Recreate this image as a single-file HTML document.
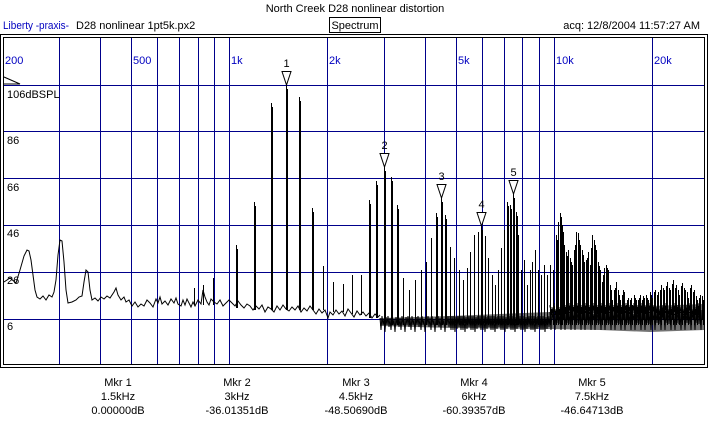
<!DOCTYPE html>
<html><head><meta charset="utf-8"><style>
html,body{margin:0;padding:0;background:#fff;}
svg{display:block;font-family:"Liberation Sans",Arial,sans-serif;}
</style></head><body>
<svg width="709" height="426" viewBox="0 0 709 426" xmlns="http://www.w3.org/2000/svg">
<rect width="709" height="426" fill="#fff"/>
<text x="355" y="12" font-size="11" text-anchor="middle">North Creek D28 nonlinear distortion</text>
<text x="3" y="29" font-size="11" fill="#0000c0" textLength="66" lengthAdjust="spacingAndGlyphs">Liberty -praxis-</text>
<text x="76" y="29" font-size="11">D28 nonlinear 1pt5k.px2</text>
<rect x="329.5" y="17.5" width="51" height="15" fill="none" stroke="#000"/>
<text x="355" y="29" font-size="11" text-anchor="middle">Spectrum</text>
<text x="700" y="29" font-size="11" text-anchor="end">acq: 12/8/2004 11:57:27 AM</text>
<rect x="0.5" y="34.5" width="707" height="333" fill="none" stroke="#000"/>
<rect x="3.5" y="37.5" width="701" height="327" fill="none" stroke="#000"/>
<path stroke="#00008b" stroke-width="1" fill="none" d="M59.5 38V364 M100.5 38V364 M131.5 38V364 M157.5 38V364 M179.5 38V364 M198.5 38V364 M214.5 38V364 M229.5 38V364 M327.5 38V364 M384.5 38V364 M425.5 38V364 M456.5 38V364 M482.5 38V364 M504.5 38V364 M522.5 38V364 M539.5 38V364 M554.5 38V364 M652.5 38V364 M4 85.5H704 M4 131.5H704 M4 178.5H704 M4 225.5H704 M4 272.5H704 M4 319.5H704"/>
<g font-size="11" fill="#0000c0">
<text x="5" y="64">200</text><text x="133" y="64">500</text><text x="231" y="64">1k</text>
<text x="329" y="64">2k</text><text x="458" y="64">5k</text><text x="556" y="64">10k</text><text x="654" y="64">20k</text>
</g>
<path d="M4 77 L20 84 L4 84" fill="none" stroke="#000"/>
<g font-size="11">
<text x="7" y="98">106dBSPL</text><text x="7" y="144">86</text><text x="7" y="191">66</text>
<text x="7" y="237">46</text><text x="7" y="284">26</text><text x="7" y="330">6</text>
</g>
<path fill="#000" fill-opacity="0.55" d="M380 318 L450 316 L550 312 L600 308 L650 306 L704 304 L704 330 L650 332 L600 330 L550 329 L450 328 L380 326 Z"/>
<g fill="none" stroke="#000" stroke-width="1">
<path d="M4 282 L10 278 L16 283 L20 270 L24 256 L27 250 L29 251 L31 260 L33 275 L35 290 L37 297 L40 299 L43 296 L46 300 L49 295 L52 297 L54 292 L56 280 L58 255 L60 240 L62 241 L64 262 L66 290 L68 303 L72 302 L76 300 L79 297 L82 296 L84 282 L86 270 L88 272 L90 290 L92 300 L95 298 L98 301 L101 297 L104 299 L107 296 L110 298 L114 292 L116 288 L118 295 L121 300 L124 297 L126 302 L129 300 L132 306 L135 302 L138 307 L141 304 L144 306 L147 300 L150 303 L153 307 L156 299 L158 303 L160 297 L162 304 L165 301 L168 305 L171 299 L174 303 L176 298 L178 304 L181 306 L183 300 L185 305 L187 299 L189 303 L191 307 L193 302 L195 306 L198 300 L201 304 L203 290 L205 297 L207 302 L209 305 L211 299 L214 302 L217 304 L220 300 L223 306 L226 303 L229 300 L232 303 L235 306 L238 301 L241 305 L244 308 L247 304 L250 306 L253 310 L256 306 L259 309 L262 305 L265 312 L268 307 L271 309 L274 312 L277 306 L280 310 L283 305 L286 309 L289 311 L292 307 L295 310 L298 306 L301 312 L304 308 L307 311 L310 306 L313 310 L316 314 L319 309 L322 313 L325 310 L328 318 L330 312 L333 315 L336 310 L339 314 L342 311 L345 316 L348 309 L351 313 L354 317 L357 311 L360 315 L363 312 L366 316 L369 313 L372 318 L375 314 L378 317 L380 315"/>
<path d="M380 318 l1 12 l1 -14 l1 9 l1 -6 l1 13 l1 -15 l1 8 l1 -9 l1 11 l1 -9 l1 12 l1 -14 l1 9 l1 -6 l1 13 l1 -15 l1 8 l1 -9 l1 11 l1 -9 l1 12 l1 -14 l1 9 l1 -6 l1 13 l1 -15 l1 8 l1 -9 l1 11 l1 -9 l1 12 l1 -14 l1 9 l1 -6 l1 13 l1 -15 l1 8 l1 -9 l1 11 l1 -9 l1 12 l1 -14 l1 9 l1 -6 l1 13 l1 -15 l1 8 l1 -9 l1 11 l1 -9 l1 12 l1 -14 l1 9 l1 -6 l1 13 l1 -15 l1 8 l1 -9 l1 11 l1 -9 l1 12 l1 -14 l1 9 l1 -6 l1 13 l1 -15 l1 8 l1 -9 l1 11 l1 -9 l1 12 l1 -14 l1 9 l1 -6 l1 13 l1 -15 l1 8 l1 -9 l1 11 l1 -9 l1 12 l1 -14 l1 9 l1 -6 l1 13 l1 -15 l1 8 l1 -9 l1 11 l1 -9 l1 12 l1 -14 l1 9 l1 -6 l1 13 l1 -15 l1 8 l1 -9 l1 11 l1 -9 l1 12 l1 -14 l1 9 l1 -6 l1 13 l1 -15 l1 8 l1 -9 l1 11 l1 -9 l1 12 l1 -14 l1 9 l1 -6 l1 13 l1 -15 l1 8 l1 -9 l1 11 l1 -9 l1 12 l1 -14 l1 9 l1 -6 l1 13 l1 -15 l1 8 l1 -9 l1 11 l1 -9 l1 12 l1 -14 l1 9 l1 -6 l1 13 l1 -15 l1 8 l1 -9 l1 11 l1 -9 l1 12 l1 -14 l1 9 l1 -6 l1 13 l1 -15 l1 8 l1 -9 l1 11 l1 -9 l1 12 l1 -14 l1 9 l1 -6 l1 13 l1 -15 l1 8 l1 -9 l1 11 l1 -9 l1 12 l1 -14 l1 9 l1 -6 l1 13 l1 -15 l1 8 l1 -9 l1 11 l1 -9"/>
<path d="M450 316 l1 10 l1 -8 l1 12 l1 -14 l1 7 l1 -5 l1 11 l1 -13 l1 9 l1 -9 l1 10 l1 -8 l1 12 l1 -14 l1 7 l1 -5 l1 11 l1 -13 l1 9 l1 -9 l1 10 l1 -8 l1 12 l1 -14 l1 7 l1 -5 l1 11 l1 -13 l1 9 l1 -9 l1 10 l1 -8 l1 12 l1 -14 l1 7 l1 -5 l1 11 l1 -13 l1 9 l1 -9 l1 10 l1 -8 l1 12 l1 -14 l1 7 l1 -5 l1 11 l1 -13 l1 9 l1 -9 l1 10 l1 -8 l1 12 l1 -14 l1 7 l1 -5 l1 11 l1 -13 l1 9 l1 -9 l1 10 l1 -8 l1 12 l1 -14 l1 7 l1 -5 l1 11 l1 -13 l1 9 l1 -9 l1 10 l1 -8 l1 12 l1 -14 l1 7 l1 -5 l1 11 l1 -13 l1 9 l1 -9 l1 10 l1 -8 l1 12 l1 -14 l1 7 l1 -5 l1 11 l1 -13 l1 9 l1 -9 l1 10 l1 -8 l1 12 l1 -14 l1 7 l1 -5 l1 11 l1 -13 l1 9 l1 -9"/>
<path d="M550 312 l1 18 l1 -20 l1 10 l1 -6 l1 16 l1 -19 l1 12 l1 -14 l1 15 l1 -12 l1 18 l1 -20 l1 10 l1 -6 l1 16 l1 -19 l1 12 l1 -14 l1 15 l1 -12 l1 18 l1 -20 l1 10 l1 -6 l1 16 l1 -19 l1 12 l1 -14 l1 15 l1 -12 l1 18 l1 -20 l1 10 l1 -6 l1 16 l1 -19 l1 12 l1 -14 l1 15 l1 -12 l1 18 l1 -20 l1 10 l1 -6 l1 16 l1 -19 l1 12 l1 -14 l1 15 l1 -12 l1 18 l1 -20 l1 10 l1 -6 l1 16 l1 -19 l1 12 l1 -14 l1 15 l1 -12 l1 18 l1 -20 l1 10 l1 -6 l1 16 l1 -19 l1 12 l1 -14 l1 15 l1 -12 l1 18 l1 -20 l1 10 l1 -6 l1 16 l1 -19 l1 12 l1 -14 l1 15 l1 -12 l1 18 l1 -20 l1 10 l1 -6 l1 16 l1 -19 l1 12 l1 -14 l1 15 l1 -12 l1 18 l1 -20 l1 10 l1 -6 l1 16 l1 -19 l1 12 l1 -14 l1 15 l1 -12 l1 18 l1 -20 l1 10 l1 -6 l1 16 l1 -19 l1 12 l1 -14 l1 15 l1 -12 l1 18 l1 -20 l1 10 l1 -6 l1 16 l1 -19 l1 12 l1 -14 l1 15 l1 -12 l1 18 l1 -20 l1 10 l1 -6 l1 16 l1 -19 l1 12 l1 -14 l1 15 l1 -12 l1 18 l1 -20 l1 10 l1 -6 l1 16 l1 -19 l1 12 l1 -14 l1 15 l1 -12 l1 18 l1 -20 l1 10 l1 -6 l1 16 l1 -19 l1 12 l1 -14 l1 15 l1 -12 l1 18 l1 -20 l1 10 l1 -6"/>
</g>
<g fill="none" stroke="#000" stroke-width="1" shape-rendering="crispEdges">
<path d="M550 305 l1 10 l1 -8 l1 6 l1 -10 l1 12 l1 -6 l1 5 l1 -9 l1 10 l1 -8 l1 6 l1 -10 l1 12 l1 -6 l1 5 l1 -9 l1 10 l1 -8 l1 6 l1 -10 l1 12 l1 -6 l1 5 l1 -9 l1 10 l1 -8 l1 6 l1 -10 l1 12 l1 -6 l1 5 l1 -9 l1 10 l1 -8 l1 6 l1 -10 l1 12 l1 -6 l1 5 l1 -9 l1 10 l1 -8 l1 6 l1 -10 l1 12 l1 -6 l1 5 l1 -9 l1 10 l1 -8 l1 6 l1 -10 l1 12 l1 -6 l1 5 l1 -9 l1 10 l1 -8 l1 6 l1 -10 l1 12 l1 -6 l1 5 l1 -9 l1 10 l1 -8 l1 6 l1 -10 l1 12 l1 -6 l1 5 l1 -9 l1 10 l1 -8 l1 6 l1 -10 l1 12 l1 -6 l1 5 l1 -9 l1 10 l1 -8 l1 6 l1 -10 l1 12 l1 -6 l1 5 l1 -9 l1 10 l1 -8 l1 6 l1 -10 l1 12 l1 -6 l1 5 l1 -9 l1 10 l1 -8 l1 6 l1 -10 l1 12 l1 -6 l1 5 l1 -9 l1 10 l1 -8 l1 6 l1 -10 l1 12 l1 -6 l1 5 l1 -9 l1 10 l1 -8 l1 6 l1 -10 l1 12 l1 -6 l1 5 l1 -9 l1 10 l1 -8 l1 6 l1 -10 l1 12 l1 -6 l1 5 l1 -9 l1 10 l1 -8 l1 6 l1 -10 l1 12 l1 -6 l1 5 l1 -9 l1 10 l1 -8 l1 6 l1 -10 l1 12 l1 -6 l1 5 l1 -9 l1 10 l1 -8 l1 6 l1 -10 l1 12 l1 -6"/>
<path d="M194.5 288V305 M203.5 285V305 M213.5 278V305 M236.5 245V308 M237.5 249V308 M254.5 202V310 M255.5 206V310 M271.5 103V310 M272.5 107V310 M286.5 85V310 M287.5 89V310 M299.5 97V310 M300.5 101V310 M312.5 208V310 M313.5 212V310 M323.5 266V310 M333.5 282V312 M343.5 284V312 M352.5 275V314 M361.5 275V315 M369.5 200V318 M370.5 204V318 M376.5 181V318 M377.5 185V318 M384.5 167V325 M385.5 171V325 M391.5 177V325 M392.5 181V325 M397.5 205V325 M398.5 209V325 M403.5 278V325 M409.5 290V325 M415.5 280V325 M421.5 270V325 M426.5 262V325 M431.5 238V325 M436.5 213V325 M437.5 217V325 M441.5 198V325 M442.5 202V325 M445.5 215V325 M446.5 219V325 M450.5 247V325 M454.5 258V325 M459.5 270V325 M463.5 280V325 M467.5 268V325 M470.5 252V325 M474.5 235V325 M478.5 232V325 M481.5 226V325 M482.5 230V325 M485.5 236V325 M488.5 258V325 M492.5 275V325 M495.5 285V325 M498.5 270V325 M501.5 248V325 M504.5 230V325 M507.5 202V325 M508.5 206V325 M510.5 205V325 M511.5 209V325 M513.5 194V325 M514.5 198V325 M516.5 212V325 M517.5 216V325 M518.5 235V325 M521.5 270V325 M524.5 260V325 M527.5 285V325 M530.5 270V325 M532.5 262V325 M535.5 250V325 M538.5 270V325 M541.5 275V325 M544.5 265V325 M547.5 275V325 M550.5 265V325 M553.5 270V325 M556.5 235V325 M558.5 222V325 M560.5 213V325 M561.5 217V325 M562.5 225V325 M564.5 245V325 M566.5 252V325 M568.5 250V325 M570.5 258V325 M572.5 265V325 M574.5 250V325 M576.5 232V325 M578.5 233V325 M580.5 245V325 M582.5 250V325 M584.5 262V325 M586.5 260V325 M588.5 252V325 M590.5 265V325 M592.5 235V325 M594.5 240V325 M596.5 250V325 M598.5 262V325 M600.5 270V325 M602.5 282V325 M604.5 268V325 M606.5 265V325 M608.5 270V325 M610.5 285V325 M612.5 300V325 M614.5 290V325 M616.5 282V325 M618.5 290V325 M620.5 300V325 M622.5 295V325 M624.5 292V325 M626.5 305V325 M628.5 298V325 M630.5 300V325 M632.5 305V325 M634.5 295V325 M636.5 300V325 M638.5 300V325 M640.5 295V325 M642.5 300V325 M644.5 298V325 M646.5 295V325 M648.5 300V325 M650.5 292V325 M652.5 298V325 M655.5 290V325 M658.5 292V325 M661.5 285V325 M664.5 290V325 M667.5 282V325 M670.5 290V325 M673.5 280V325 M676.5 285V325 M679.5 295V325 M682.5 283V325 M685.5 290V325 M688.5 298V325 M691.5 285V325 M694.5 290V325 M697.5 300V325 M700.5 295V325 M703.5 300V325"/>
<path d="M557.5 240V320 M563.5 232V320 M567.5 256V320 M571.5 262V320 M575.5 245V320 M579.5 240V320 M583.5 255V320 M587.5 258V320 M591.5 248V320 M595.5 245V320 M599.5 266V320 M603.5 275V320 M607.5 268V320 M611.5 290V320 M615.5 288V320 M619.5 295V320 M623.5 290V320 M627.5 300V320 M631.5 298V320 M635.5 298V320 M639.5 298V320 M643.5 296V320 M647.5 298V320 M651.5 295V320 M654.5 292V320 M657.5 295V320 M660.5 290V320 M663.5 288V320 M666.5 286V320 M669.5 288V320 M672.5 284V320 M675.5 288V320 M678.5 290V320 M681.5 286V320 M684.5 288V320 M687.5 292V320 M690.5 288V320 M693.5 292V320 M696.5 296V320 M699.5 298V320 M702.5 296V320"/>
</g>
<g fill="#fff" stroke="#000" stroke-width="1">
<path d="M282 71.5 L291 71.5 L286.5 85 Z"/>
<path d="M380 153.5 L389 153.5 L384.5 167 Z"/>
<path d="M437 184.5 L446 184.5 L441.5 198 Z"/>
<path d="M477 212.5 L486 212.5 L481.5 226 Z"/>
<path d="M509 180.5 L518 180.5 L513.5 194 Z"/>
</g>
<g font-size="11" text-anchor="middle">
<text x="286.5" y="67">1</text><text x="384.5" y="149">2</text><text x="441.5" y="180">3</text>
<text x="481.5" y="208">4</text><text x="513.5" y="176">5</text>
</g>
<g font-size="11" text-anchor="middle">
<text x="118" y="386">Mkr 1</text><text x="118" y="400">1.5kHz</text><text x="118" y="414">0.00000dB</text>
<text x="237" y="386">Mkr 2</text><text x="237" y="400">3kHz</text><text x="237" y="414">-36.01351dB</text>
<text x="356" y="386">Mkr 3</text><text x="356" y="400">4.5kHz</text><text x="356" y="414">-48.50690dB</text>
<text x="474" y="386">Mkr 4</text><text x="474" y="400">6kHz</text><text x="474" y="414">-60.39357dB</text>
<text x="592" y="386">Mkr 5</text><text x="592" y="400">7.5kHz</text><text x="592" y="414">-46.64713dB</text>
</g>
</svg>
</body></html>
